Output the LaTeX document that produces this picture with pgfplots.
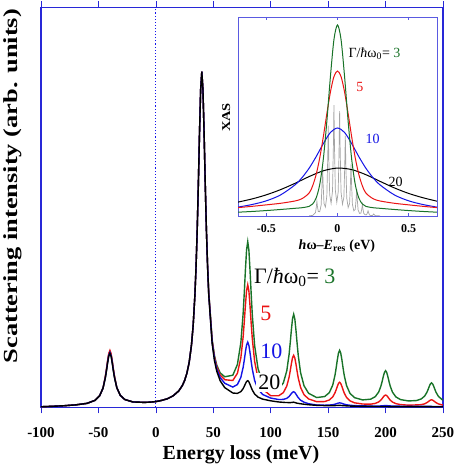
\documentclass[border=0pt]{standalone}
\usepackage{fontspec}
\setmainfont{Liberation Serif}
\usepackage{graphicx}
\usepackage{pgfplots}
\pgfplotsset{compat=1.18}
\definecolor{frameblue}{RGB}{40,40,215}
\definecolor{insetblue}{RGB}{90,90,225}
\definecolor{dotblue}{RGB}{20,20,235}
\definecolor{cgreen}{RGB}{25,115,40}
\definecolor{cred}{RGB}{235,20,20}
\definecolor{cblue}{RGB}{20,20,230}
\definecolor{sticks}{RGB}{165,165,165}

\begin{document}
\begin{tikzpicture}
% ---------------- main panel ----------------
\begin{axis}[
  at={(0pt,0pt)}, anchor=south west,
  width=402pt, height=400pt, scale only axis,
  xmin=-100, xmax=250, ymin=0, ymax=1,
  xtick={-100,-50,0,50,100,150,200,250},
  xticklabels={-100,-50,0,50,100,150,200,250},
  ytick=\empty,
  tick align=outside,
  major tick length=6pt,
  axis line style={frameblue, line width=1.2pt},
  tick style={frameblue, line width=0.7pt},
  xticklabel style={font=\bfseries\fontsize{15}{15}\selectfont, anchor=base, yshift=-24.5pt},
  xlabel={Energy loss (meV)},
  xlabel style={font=\bfseries\fontsize{20}{20}\selectfont, at={(axis description cs:0.4975,-0.1305)}, anchor=base},
  ylabel={\scalebox{1.32}[1]{Scattering intensity (arb. units)}},
  ylabel style={font=\bfseries\fontsize{20}{20}\selectfont, at={(axis description cs:-0.0597,0.553)}, anchor=base},
]
\addplot[dotblue, dotted, line width=1.1pt] coordinates {(0,0) (0,1)};

% Gamma/hw0 = 3
\addplot[cgreen, line width=1.4pt] coordinates {
(-100,0.0013)(-90,0.0025)(-80,0.0039)(-70,0.006)(-60,0.0098)(-53,0.0173)(-49,0.0285)(-46,0.048)
(-44,0.0755)(-43,0.0939)(-42,0.1144)(-41,0.1318)(-40,0.1392)(-39,0.1318)(-38,0.1144)(-37,0.094)(-36,0.0762)
(-34,0.0491)(-31,0.030)(-27,0.0194)(-20,0.0134)(-10,0.0123)(-5,0.0129)(0,0.0143)(5,0.0172)(10,0.0213)(15,0.0286)
(20,0.0411)(23,0.054)(25,0.0667)(27,0.0849)(29,0.1121)
(31,0.1553)(32.5,0.2052)(34,0.2806)(35,0.3514)(36,0.4429)(37,0.5577)(38,0.6849)(39,0.7938)(40,0.8389)
(41,0.7943)(42,0.6859)(43,0.5591)(44,0.4447)
(45,0.359)(46,0.29)(49,0.1697)(51,0.1297)(53,0.1057)(56,0.0861)(60,0.0763)(67,0.0802)(71,0.107)(74,0.1618)
(76,0.2346)(77,0.2866)(78,0.3447)(79,0.3942)(80,0.4142)(81,0.3929)(82,0.3422)(83,0.283)(84,0.2298)(86,0.1543)
(89,0.096)(93,0.0628)(100,0.044)(107,0.046)(111,0.061)(114,0.0913)(116,0.1322)(117,0.1614)(118,0.1938)
(119,0.2216)(120,0.2327)(121,0.2207)(122,0.1923)(123,0.159)(124,0.1291)(126,0.0866)(129,0.0538)(133,0.035)
(140,0.0244)(147,0.0269)(151,0.0365)(154,0.0555)(156,0.0807)(157,0.0987)(158,0.1186)(159,0.1355)(160,0.1424)
(161,0.1353)(162,0.1182)(163,0.0981)(164,0.08)(166,0.0545)(169,0.0349)(173,0.0241)(180,0.0185)(187,0.0203)
(191,0.0265)(194,0.0381)(196,0.0535)(197,0.0645)(198,0.0767)(199,0.0871)(200,0.0914)(201,0.0871)(202,0.0767)
(203,0.0645)(204,0.0534)(206,0.0379)(209,0.0259)(213,0.0193)(220,0.0159)(227,0.0169)(231,0.0208)(234,0.028)
(236,0.0375)(237,0.0443)(238,0.0519)(239,0.0584)(240,0.061)(241,0.0584)(242,0.0519)(243,0.0443)(244,0.0372)
(246,0.0274)(249,0.0197)(250,0.018)};

% Gamma/hw0 = 5
\addplot[cred, line width=1.4pt] coordinates {
(-100,0.0013)(-90,0.0025)(-80,0.0039)(-70,0.006)(-60,0.0098)(-53,0.0173)(-49,0.0285)(-46,0.048)
(-44,0.0771)(-43,0.0959)(-42,0.1168)(-41,0.1347)(-40,0.1422)(-39,0.1347)(-38,0.1168)(-37,0.096)(-36,0.0778)
(-34,0.0491)(-31,0.030)(-27,0.0194)(-20,0.0134)(-10,0.0123)(-5,0.0129)(0,0.0143)(5,0.0172)(10,0.0213)(15,0.0286)
(20,0.0411)(23,0.054)(25,0.0667)(27,0.0849)(29,0.1121)
(31,0.1553)(32.5,0.2052)(34,0.2806)(35,0.3514)(36,0.4429)(37,0.5577)(38,0.6849)(39,0.7938)(40,0.8389)
(41,0.7943)(42,0.6859)(43,0.5591)(44,0.4447)
(45,0.3573)(46,0.2881)(49,0.1668)(51,0.1262)(53,0.1015)(56,0.0807)(60,0.0689)(67,0.067)(71,0.0849)(74,0.1238)
(76,0.1764)(77,0.2141)(78,0.2561)(79,0.2919)(80,0.3063)(81,0.2904)(82,0.2531)(83,0.2097)(84,0.1705)(86,0.1147)
(89,0.071)(93,0.0455)(100,0.0288)(107,0.0289)(111,0.0367)(114,0.0531)(116,0.0752)(117,0.0912)(118,0.1089)
(119,0.124)(120,0.1299)(121,0.1233)(122,0.1077)(123,0.0895)(124,0.073)(126,0.0497)(129,0.0314)(133,0.0209)
(140,0.0141)(147,0.0144)(151,0.0183)(154,0.026)(156,0.0365)(157,0.044)(158,0.0524)(159,0.0596)(160,0.0625)
(161,0.0594)(162,0.0521)(163,0.0435)(164,0.0357)(166,0.0248)(169,0.0162)(173,0.0112)(180,0.0082)(187,0.0078)
(191,0.0097)(194,0.0134)(196,0.0183)(197,0.0219)(198,0.0258)(199,0.0292)(200,0.0306)(201,0.0292)(202,0.0258)
(203,0.0219)(204,0.0181)(206,0.0131)(209,0.0091)(213,0.0068)(220,0.0053)(227,0.006)(231,0.0066)(234,0.0087)
(236,0.0117)(237,0.0136)(238,0.0159)(239,0.0179)(240,0.0187)(241,0.0179)(242,0.0159)(243,0.0136)(244,0.0116)
(246,0.0085)(249,0.0062)(250,0.0058)};

% Gamma/hw0 = 10
\addplot[cblue, line width=1.4pt] coordinates {
(-100,0.0013)(-90,0.0025)(-80,0.0039)(-70,0.006)(-60,0.0098)(-53,0.0173)(-49,0.0285)(-46,0.048)
(-44,0.0744)(-43,0.0926)(-42,0.1128)(-41,0.1299)(-40,0.1372)(-39,0.1299)(-38,0.1128)(-37,0.0927)(-36,0.0751)
(-34,0.0491)(-31,0.030)(-27,0.0194)(-20,0.0134)(-10,0.0123)(-5,0.0129)(0,0.0143)(5,0.0172)(10,0.0213)(15,0.0286)
(20,0.0411)(23,0.054)(25,0.0667)(27,0.0849)(29,0.1121)
(31,0.1553)(32.5,0.2052)(34,0.2806)(35,0.3514)(36,0.4429)(37,0.5577)(38,0.6849)(39,0.7938)(40,0.8389)
(41,0.7943)(42,0.6859)(43,0.5591)(44,0.4447)
(45,0.3551)(46,0.2856)(49,0.1633)(51,0.122)(53,0.0963)(56,0.0743)(60,0.060)(67,0.0506)(71,0.0569)(74,0.0748)
(76,0.0999)(77,0.1182)(78,0.1387)(79,0.156)(80,0.1628)(81,0.1547)(82,0.1362)(83,0.1146)(84,0.095)(86,0.0671)
(89,0.0451)(93,0.032)(100,0.0231)(107,0.0194)(111,0.0197)(114,0.0224)(116,0.027)(117,0.0305)(118,0.0344)
(119,0.0377)(120,0.0389)(121,0.037)(122,0.033)(123,0.0283)(124,0.024)(126,0.0178)(129,0.0128)(133,0.009)
(140,0.0057)(147,0.0052)(151,0.0056)(154,0.0065)(156,0.0078)(157,0.0087)(158,0.0097)(159,0.0106)(160,0.011)
(161,0.0106)(162,0.0097)(163,0.0087)(164,0.0078)(166,0.0062)(169,0.0051)(173,0.0042)(180,0.0035)(193,0.003)
(197,0.0036)(200,0.0045)(203,0.0036)(207,0.003)(220,0.0024)(250,0.002)};

% Gamma/hw0 = 20
\addplot[black, line width=1.4pt] coordinates {
(-100,0.0013)(-90,0.0025)(-80,0.0039)(-70,0.006)(-60,0.0098)(-53,0.0173)(-49,0.0285)(-46,0.048)
(-44,0.0734)(-43,0.0913)(-42,0.111)(-41,0.128)(-40,0.1352)(-39,0.128)(-38,0.111)(-37,0.0915)(-36,0.0741)
(-34,0.0491)(-31,0.030)(-27,0.0194)(-20,0.0134)(-10,0.0123)(-5,0.0129)(0,0.0143)(5,0.0172)(10,0.0213)(15,0.0286)
(20,0.0411)(23,0.054)(25,0.0667)(27,0.0849)(29,0.1121)
(31,0.1553)(32.5,0.2052)(34,0.2806)(35,0.3514)(36,0.4429)(37,0.5577)(38,0.6849)(39,0.7938)(40,0.8389)
(41,0.7943)(42,0.6859)(43,0.5591)(44,0.4447)
(45,0.3534)(46,0.2833)(49,0.1595)(51,0.117)(53,0.0904)(56,0.0663)(60,0.0491)(67,0.0357)(71,0.0348)(74,0.0392)
(76,0.0468)(77,0.0525)(78,0.059)(79,0.0645)(80,0.0665)(81,0.0636)(82,0.0571)(83,0.0497)(84,0.043)(86,0.0332)
(89,0.0254)(93,0.0204)(100,0.0162)(107,0.0133)(113,0.012)(117,0.0117)(120,0.0128)(123,0.0102)(127,0.0084)
(133,0.0064)(140,0.0049)(150,0.004)(157,0.0044)(160,0.0049)(163,0.0041)(170,0.003)(180,0.0023)(200,0.0019)
(220,0.0017)(250,0.0014)};

\node[anchor=base west, fill=white, inner sep=1.5pt, font=\fontsize{22}{22}\selectfont]
  at (axis cs:84,0.31) {Γ/{\itshape ħ}ω\textsubscript{0}= \textcolor{cgreen}{3}};
\node[anchor=base west, fill=white, inner sep=2pt, font=\fontsize{22}{22}\selectfont, text=cred]
  at (axis cs:89,0.218) {5};
\node[anchor=base west, fill=white, inner sep=2pt, font=\fontsize{22}{22}\selectfont, text=cblue]
  at (axis cs:89,0.1225) {10};
\node[anchor=base west, fill=white, inner sep=2pt, font=\fontsize{22}{22}\selectfont, text=black]
  at (axis cs:87.3,0.045) {20};
\end{axis}

% ---------------- inset: XAS ----------------
\begin{axis}[
  at={(197pt,191.3pt)}, anchor=south west,
  width=199pt, height=199pt, scale only axis,
  xmin=-0.7, xmax=0.7, ymin=0, ymax=199,
  xtick={-0.5,0,0.5},
  xticklabels={-0.5,0,0.5},
  ytick=\empty,
  tick align=inside,
  major tick length=3pt,
  axis line style={insetblue, line width=0.8pt},
  tick style={insetblue, line width=0.6pt},
  axis background/.style={fill=white},
  xticklabel style={font=\bfseries\fontsize{12}{12}\selectfont, anchor=base, yshift=-17pt},
  xlabel={{\itshape h}ω–{\itshape E}\textsubscript{res} (eV)},
  xlabel style={font=\bfseries\fontsize{14}{14}\selectfont, at={(axis description cs:0.497,-0.166)}, anchor=base},
  ylabel={\scalebox{1.2}[1]{XAS}},
  ylabel style={font=\bfseries\fontsize{12}{12}\selectfont, at={(axis description cs:-0.04,0.495)}, anchor=base},
]
\addplot[sticks, line width=0.7pt] coordinates {
(-0.2,0.2)(-0.175,0.6)(-0.155,3.3)(-0.149,9.1)(-0.145,14.7)(-0.141,9.4)(-0.135,4.5)(-0.125,4.3)(-0.115,10.9)
(-0.109,30.7)(-0.105,49.5)(-0.101,31.5)(-0.095,12.5)(-0.085,8.9)(-0.075,20)(-0.069,56)(-0.065,90.3)(-0.061,56.8)
(-0.055,21.5)(-0.045,12.6)(-0.035,25)(-0.029,68.9)(-0.025,110.9)(-0.021,68.9)(-0.015,25.7)(-0.005,13.6)
(0.005,24.1)(0.011,65.3)(0.015,104.8)(0.019,65.1)(0.025,23.9)(0.035,11.7)(0.045,18.9)(0.051,50.1)(0.055,80.3)
(0.059,49.9)(0.065,18)(0.075,8.5)(0.085,12.4)(0.091,32.3)(0.095,51.6)(0.099,32)(0.105,11.5)(0.115,5.1)
(0.125,6.7)(0.131,17)(0.135,26.9)(0.139,16.7)(0.145,6)(0.155,2.6)(0.165,2.9)(0.171,7.2)(0.175,11.5)(0.179,7.1)
(0.185,2.6)(0.195,1.1)(0.205,1.3)(0.211,3.3)(0.215,5.2)(0.219,3.3)(0.225,1.1)(0.235,0.4)(0.245,0.5)(0.251,1.3)
(0.255,2)(0.259,1.3)(0.265,0.4)(0.3,0.1)};
\addplot[black, line width=1pt, smooth] coordinates {
(-0.7,13.9)(-0.6,17.1)(-0.5,21.2)(-0.4,26.4)(-0.3,32.6)(-0.2,39.4)(-0.1,45.2)(0,47.95)(0.1,46.4)(0.2,41.3)
(0.3,34.6)(0.4,28.1)(0.5,22.6)(0.6,18.3)(0.7,14.8)};
\addplot[cblue, line width=1pt, smooth] coordinates {
(-0.7,8.9)(-0.6,11.5)(-0.5,15.2)(-0.4,21.1)(-0.3,31.0)(-0.25,38.3)(-0.2,47.7)(-0.15,59.4)(-0.1,72.3)(-0.05,83.5)
(0,88)(0.05,83.5)(0.1,72.3)(0.15,59.4)(0.2,47.7)(0.25,38.3)(0.3,31.0)(0.4,21.1)(0.5,15.2)(0.6,11.5)(0.7,8.9)};
\addplot[cred, line width=1pt, smooth] coordinates {
(-0.7,8.38)(-0.6,9.68)(-0.5,11.15)(-0.4,12.72)(-0.3,15.0)(-0.25,17.3)(-0.2,22.9)(-0.175,30.1)(-0.15,41.6)
(-0.125,58.1)(-0.1,79.0)(-0.075,102.2)(-0.05,123.8)(-0.025,139.4)(0,145)(0.025,139.4)(0.05,123.8)(0.075,102.2)
(0.1,79.0)(0.125,58.1)(0.15,41.6)(0.175,30.1)(0.2,22.9)(0.25,17.3)(0.3,15.0)(0.4,12.72)(0.5,11.15)(0.6,9.68)
(0.7,8.38)};
\addplot[cgreen, line width=1pt, smooth] coordinates {
(-0.7,3.8)(-0.6,4.55)(-0.5,5.45)(-0.4,6.52)(-0.3,7.69)(-0.25,8.28)(-0.2,9.6)(-0.175,12.0)(-0.15,18.0)
(-0.125,31.5)(-0.1,56.6)(-0.075,94.5)(-0.05,139.1)(-0.025,176.4)(0,191)(0.025,176.4)(0.05,139.1)(0.075,94.5)
(0.1,56.6)(0.125,31.5)(0.15,18.0)(0.175,12.0)(0.2,9.6)(0.25,8.28)(0.3,7.69)(0.4,6.52)(0.5,5.45)(0.6,4.55)
(0.7,3.8)};

\node[anchor=base west, inner sep=0pt, font=\fontsize{14}{14}\selectfont]
  at (axis cs:0.076,158.7) {Γ/{\itshape ħ}ω\textsubscript{0}= \textcolor{cgreen}{3}};
\node[anchor=base west, inner sep=0pt, font=\fontsize{14}{14}\selectfont, text=cred]
  at (axis cs:0.132,124.3) {5};
\node[anchor=base west, inner sep=0pt, font=\fontsize{14}{14}\selectfont, text=cblue]
  at (axis cs:0.196,72.7) {10};
\node[anchor=base west, inner sep=0pt, font=\fontsize{14}{14}\selectfont, text=black]
  at (axis cs:0.358,29.3) {20};
\end{axis}

\pgfresetboundingbox
\path[use as bounding box] (-41pt,-58.7pt) rectangle (414pt,407.3pt);
\end{tikzpicture}
\end{document}
